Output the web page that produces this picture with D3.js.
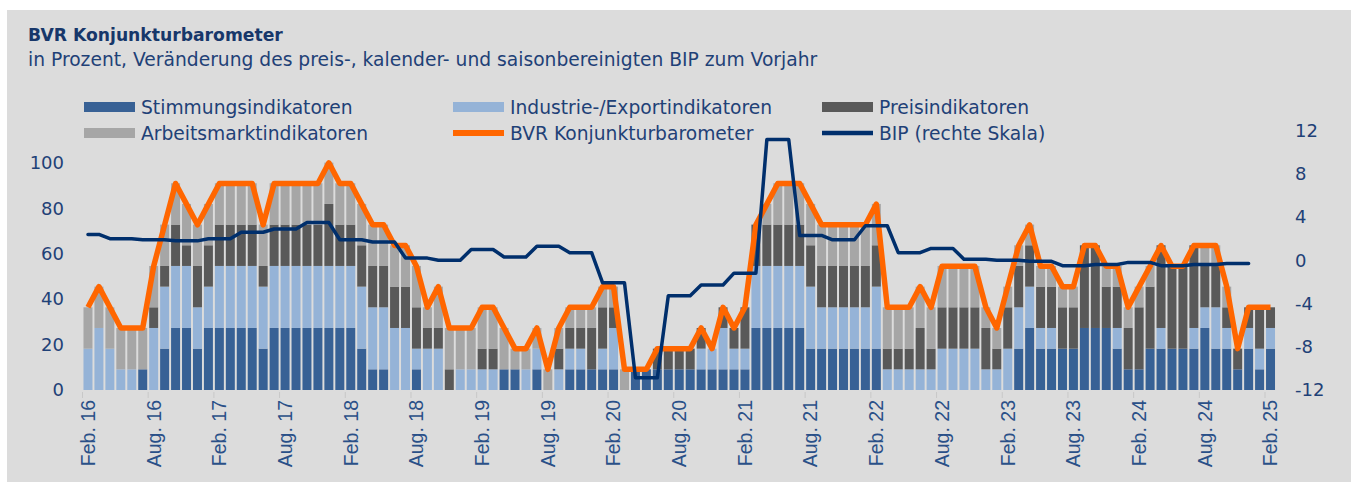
<!DOCTYPE html>
<html>
<head>
<meta charset="utf-8">
<script src="https://cdn.jsdelivr.net/npm/d3@7"></script>
<style>
  body { margin: 0; background: #fff; }
  svg { display: block; }
</style>
</head>
<body>
<svg id="chart" width="1351" height="482"></svg>
<script>
// Monthly composite, Feb 2016 .. Feb 2025 (share of positive indicators, %)
const stimmung = [
  0,0,0,0,0,9.1,0,18.2,27.3,27.3,
  18.2,27.3,27.3,27.3,27.3,27.3,18.2,27.3,27.3,27.3,
  27.3,27.3,27.3,27.3,27.3,18.2,9.1,9.1,0,0,
  9.1,0,0,0,0,0,0,0,9.1,9.1,
  0,9.1,0,0,9.1,9.1,9.1,9.1,9.1,0,
  9.1,9.1,9.1,9.1,9.1,9.1,9.1,9.1,9.1,9.1,
  9.1,27.3,27.3,27.3,27.3,27.3,18.2,18.2,18.2,18.2,
  18.2,18.2,18.2,0,0,0,0,0,0,0,
  0,0,0,0,0,18.2,27.3,18.2,18.2,18.2,
  18.2,27.3,27.3,27.3,18.2,9.1,9.1,18.2,18.2,18.2,
  18.2,18.2,27.3,18.2,18.2,9.1,18.2,9.1,18.2
];
const industrie = [
  18.2,27.3,18.2,9.1,9.1,0,27.3,27.3,27.3,27.3,
  18.2,18.2,27.3,27.3,27.3,27.3,27.3,27.3,27.3,27.3,
  27.3,27.3,27.3,27.3,27.3,27.3,27.3,27.3,27.3,27.3,
  9.1,18.2,18.2,0,9.1,9.1,9.1,9.1,0,0,
  9.1,9.1,0,9.1,9.1,9.1,0,9.1,18.2,0,
  0,0,0,0,0,0,9.1,9.1,18.2,9.1,
  9.1,27.3,27.3,27.3,27.3,27.3,27.3,18.2,18.2,18.2,
  18.2,18.2,27.3,9.1,9.1,9.1,9.1,9.1,18.2,18.2,
  18.2,18.2,9.1,9.1,18.2,18.2,18.2,9.1,9.1,0,
  0,0,0,0,9.1,0,0,0,9.1,0,
  0,9.1,9.1,18.2,9.1,0,9.1,9.1,9.1
];
const preis = [
  0,0,0,0,0,0,9.1,9.1,18.2,9.1,
  18.2,18.2,18.2,18.2,18.2,18.2,9.1,18.2,18.2,18.2,
  18.2,18.2,27.3,18.2,18.2,18.2,18.2,18.2,18.2,18.2,
  18.2,9.1,9.1,9.1,0,0,9.1,9.1,0,0,
  0,0,0,9.1,9.1,9.1,18.2,18.2,9.1,0,
  0,0,9.1,9.1,9.1,9.1,9.1,0,9.1,9.1,
  18.2,18.2,18.2,18.2,18.2,18.2,18.2,18.2,18.2,18.2,
  18.2,18.2,18.2,9.1,9.1,9.1,18.2,9.1,18.2,18.2,
  18.2,18.2,18.2,9.1,18.2,18.2,18.2,18.2,18.2,18.2,
  18.2,36.4,36.4,18.2,18.2,18.2,27.3,27.3,36.4,36.4,
  36.4,36.4,18.2,18.2,9.1,9.1,9.1,18.2,9.1
];
const arbeitsmarkt = [
  18.2,18.2,18.2,18.2,18.2,18.2,18.2,18.2,18.2,18.2,
  18.2,18.2,18.2,18.2,18.2,18.2,18.2,18.2,18.2,18.2,
  18.2,18.2,18.2,18.2,18.2,18.2,18.2,18.2,18.2,18.2,
  18.2,9.1,18.2,18.2,18.2,18.2,18.2,18.2,18.2,9.1,
  9.1,9.1,9.1,9.1,9.1,9.1,9.1,9.1,9.1,9.1,
  0,0,0,0,0,0,0,0,0,0,
  0,0,9.1,18.2,18.2,18.2,18.2,18.2,18.2,18.2,
  18.2,18.2,18.2,18.2,18.2,18.2,18.2,18.2,18.2,18.2,
  18.2,18.2,9.1,9.1,9.1,9.1,9.1,9.1,9.1,9.1,
  9.1,0,0,9.1,9.1,9.1,9.1,9.1,0,0,
  0,0,9.1,9.1,9.1,0,0,0,0
];
const barometer = [
  36.4,45.5,36.4,27.3,27.3,27.3,54.5,72.7,90.9,81.8,
  72.7,81.8,90.9,90.9,90.9,90.9,72.7,90.9,90.9,90.9,
  90.9,90.9,100,90.9,90.9,81.8,72.7,72.7,63.6,63.6,
  54.5,36.4,45.5,27.3,27.3,27.3,36.4,36.4,27.3,18.2,
  18.2,27.3,9.1,27.3,36.4,36.4,36.4,45.5,45.5,9.1,
  9.1,9.1,18.2,18.2,18.2,18.2,27.3,18.2,36.4,27.3,
  36.4,72.7,81.8,90.9,90.9,90.9,81.8,72.7,72.7,72.7,
  72.7,72.7,81.8,36.4,36.4,36.4,45.5,36.4,54.5,54.5,
  54.5,54.5,36.4,27.3,45.5,63.6,72.7,54.5,54.5,45.5,
  45.5,63.6,63.6,54.5,54.5,36.4,45.5,54.5,63.6,54.5,
  54.5,63.6,63.6,63.6,45.5,18.2,36.4,36.4,36.4
];
// BIP, quarterly, Q1 2016 .. Q4 2024 (right scale)
const bip = [
  2.4, 2.0, 1.9, 1.8,
  2.0, 2.6, 2.9, 3.5,
  1.9, 1.7, 0.2, 0.0,
  1.0, 0.3, 1.3, 0.7,
  -2.1, -10.9, -3.3, -2.3,
  -1.2, 11.2, 2.3, 1.9,
  3.2, 0.7, 1.1, 0.1,
  0.0, -0.1, -0.5, -0.4,
  -0.2, -0.5, -0.4, -0.3
];
const tickLabels = [
  "Feb. 16","Aug. 16","Feb. 17","Aug. 17","Feb. 18","Aug. 18","Feb. 19","Aug. 19",
  "Feb. 20","Aug. 20","Feb. 21","Aug. 21","Feb. 22","Aug. 22","Feb. 23","Aug. 23",
  "Feb. 24","Aug. 24","Feb. 25"
];
const leftTicks = [0, 20, 40, 60, 80, 100];
const rightTicks = [-12, -8, -4, 0, 4, 8, 12];

const keys = ["stimmung", "industrie", "preis", "arbeitsmarkt"];
const names = {
  stimmung: "Stimmungsindikatoren",
  industrie: "Industrie-/Exportindikatoren",
  preis: "Preisindikatoren",
  arbeitsmarkt: "Arbeitsmarktindikatoren"
};
const colors = {
  stimmung: "#386195",
  industrie: "#95b3d7",
  preis: "#595959",
  arbeitsmarkt: "#a6a6a6"
};
const orange = "#ff6600";
const navy = "#002f6c";
const textCol = "#1f4177";
const font = "DejaVu Sans, sans-serif";

const months = d3.timeMonth.range(new Date(2016, 1, 1), new Date(2025, 2, 1));
const table = months.map((m, i) => ({
  month: m,
  stimmung: stimmung[i],
  industrie: industrie[i],
  preis: preis[i],
  arbeitsmarkt: arbeitsmarkt[i],
  barometer: barometer[i]
}));
// quarterly BIP shown on each month of its quarter
const bipMonthly = [];
months.forEach((m, i) => {
  const q = (m.getFullYear() - 2016) * 4 + Math.floor(m.getMonth() / 3);
  if (bip[q] !== undefined) bipMonthly.push({ month: m, value: bip[q] });
});

const svg = d3.select("#chart");
const W = 1351, H = 482;

svg.append("rect")
  .attr("x", 7).attr("y", 10)
  .attr("width", W - 7).attr("height", H - 10)
  .attr("fill", "#dcdcdc");

// titles
svg.append("text")
  .attr("x", 28).attr("y", 41)
  .attr("font-family", font)
  .attr("font-weight", 700)
  .attr("font-size", 17.2)
  .attr("fill", "#17376a")
  .text("BVR Konjunkturbarometer");
svg.append("text")
  .attr("x", 28).attr("y", 66)
  .attr("font-family", font)
  .attr("font-size", 18.7)
  .attr("fill", textCol)
  .text("in Prozent, Veränderung des preis-, kalender- und saisonbereinigten BIP zum Vorjahr");

// scales
const x = d3.scaleBand()
  .domain(months)
  .range([82.5, 1276])
  .paddingInner(0.18)
  .paddingOuter(0.09);
const yL = d3.scaleLinear().domain([0, 114]).range([390, 131]);
const yR = d3.scaleLinear().domain([-12, 12]).range([389.5, 131]);

// stacked bars
const series = d3.stack().keys(keys)(table);
svg.append("g")
  .selectAll("g")
  .data(series)
  .join("g")
  .attr("fill", d => colors[d.key])
  .selectAll("rect")
  .data(d => d)
  .join("rect")
  .attr("x", d => x(d.data.month))
  .attr("width", x.bandwidth())
  .attr("y", d => yL(d[1]))
  .attr("height", d => yL(d[0]) - yL(d[1]));

// lines
const cx = d => x(d.month) + x.bandwidth() / 2;
svg.append("path")
  .datum(table)
  .attr("fill", "none")
  .attr("stroke", orange)
  .attr("stroke-width", 5.5)
  .attr("stroke-linejoin", "round")
  .attr("d", d3.line().x(cx).y(d => yL(d.barometer)));

svg.append("path")
  .datum(bipMonthly)
  .attr("fill", "none")
  .attr("stroke", navy)
  .attr("stroke-width", 3.5)
  .attr("stroke-linejoin", "round")
  .attr("stroke-linecap", "round")
  .attr("d", d3.line().x(cx).y(d => yR(d.value)));

// axes
const labelled = months.filter(m => m.getMonth() === 1 || m.getMonth() === 7);
const labelOf = new Map(labelled.map((m, i) => [+m, tickLabels[i]]));

const gx = svg.append("g").attr("transform", "translate(0,392)");
gx.selectAll("line")
  .data(labelled)
  .join("line")
  .attr("x1", d => x(d) - 1).attr("x2", d => x(d) - 1)
  .attr("y1", 0).attr("y2", 6)
  .attr("stroke", "#c8c8c8");
gx.selectAll("text")
  .data(labelled)
  .join("text")
  .attr("transform", d => `translate(${x(d) + x.bandwidth() / 2},8) rotate(-90)`)
  .attr("text-anchor", "end")
  .attr("dy", "0.35em")
  .attr("font-family", "Liberation Sans, Arial, sans-serif")
  .attr("font-size", 19.5)
  .attr("fill", "#2a5088")
  .text(d => labelOf.get(+d));

const axisLeft = d3.axisLeft(yL).tickValues(leftTicks).tickSize(0).tickPadding(0);
svg.append("g")
  .attr("transform", "translate(64,0)")
  .call(axisLeft)
  .call(g => g.select(".domain").remove())
  .call(g => g.selectAll("text")
    .attr("font-family", font)
    .attr("font-size", 18)
    .attr("fill", textCol));

const axisRight = d3.axisRight(yR).tickValues(rightTicks).tickSize(0).tickPadding(0)
  .tickFormat(d => d < 0 ? "-" + Math.abs(d) : d);
svg.append("g")
  .attr("transform", "translate(1295,0)")
  .call(axisRight)
  .call(g => g.select(".domain").remove())
  .call(g => g.selectAll("text")
    .attr("font-family", font)
    .attr("font-size", 18)
    .attr("fill", textCol));

// legend
const legend = [
  { key: "stimmung", type: "rect", x: 84, y: 107 },
  { key: "industrie", type: "rect", x: 453, y: 107 },
  { key: "preis", type: "rect", x: 822, y: 107 },
  { key: "arbeitsmarkt", type: "rect", x: 84, y: 133 },
  { label: "BVR Konjunkturbarometer", type: "line", color: orange, w: 6, x: 453, y: 133 },
  { label: "BIP (rechte Skala)", type: "line", color: navy, w: 4.5, x: 822, y: 133 }
];
const lg = svg.append("g")
  .selectAll("g")
  .data(legend)
  .join("g")
  .attr("transform", d => `translate(${d.x},${d.y})`);
lg.filter(d => d.type === "rect")
  .append("rect")
  .attr("x", 0).attr("y", -5)
  .attr("width", 51).attr("height", 10)
  .attr("fill", d => colors[d.key]);
lg.filter(d => d.type === "line")
  .append("line")
  .attr("x1", 0).attr("x2", 51)
  .attr("stroke", d => d.color)
  .attr("stroke-width", d => d.w);
lg.append("text")
  .attr("x", 57)
  .attr("dy", "0.35em")
  .attr("font-family", font)
  .attr("font-size", 18.7)
  .attr("fill", textCol)
  .text(d => d.label || names[d.key]);
</script>
</body>
</html>
